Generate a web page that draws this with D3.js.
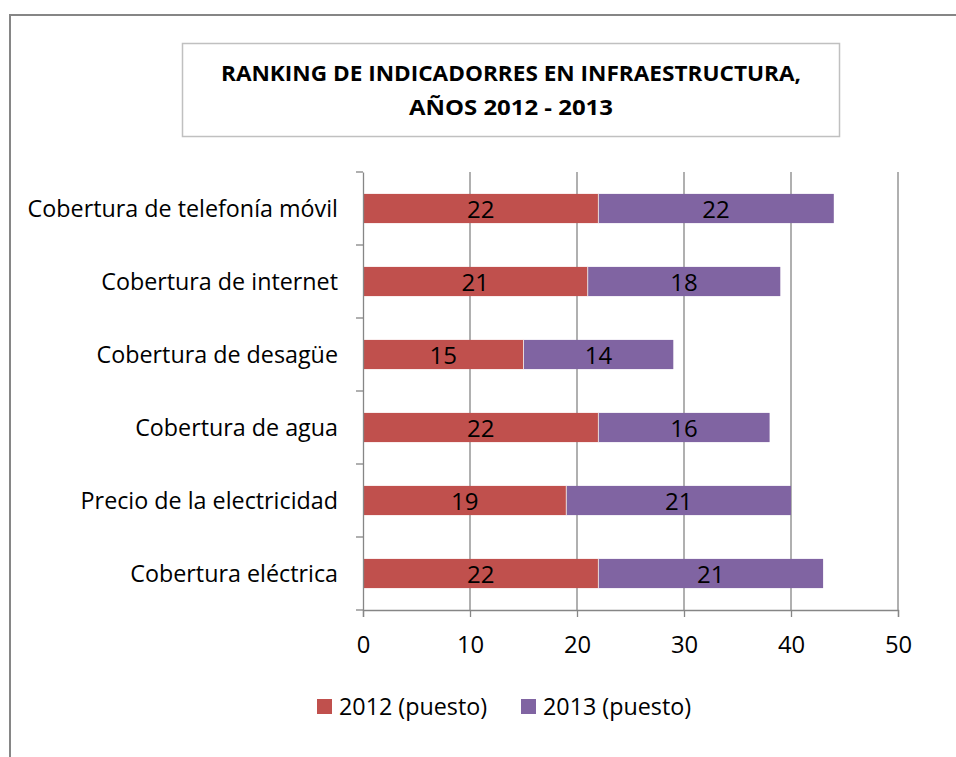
<!DOCTYPE html>
<html><head><meta charset="utf-8">
<script src="https://cdn.jsdelivr.net/npm/d3@7"></script>
<style>body{margin:0;background:#fff}svg{display:block}</style>
</head><body>
<svg id="c" width="956" height="757"></svg>
<script>
const categories = ["Cobertura de telefonía móvil","Cobertura de internet","Cobertura de desagüe","Cobertura de agua","Precio de la electricidad","Cobertura eléctrica"];
const values2012 = [22,21,15,22,19,22];
const values2013 = [22,18,14,16,21,21];
const seriesNames = ["2012 (puesto)","2013 (puesto)"];
const seriesColors = ["#C0504D","#8064A2"];
const xTicks = [0,10,20,30,40,50];
const titleLines = ["RANKING DE INDICADORRES EN INFRAESTRUCTURA,","AÑOS 2012 - 2013"];

const FONT = "'Open Sans', 'Noto Sans', sans-serif";
const FS = 23.3;
const svg = d3.select("#c");
// outer border
svg.append("rect").attr("x",10).attr("y",15).attr("width",960).attr("height",760)
  .attr("fill","none").attr("stroke","#868686").attr("stroke-width",2);
// title box
svg.append("rect").attr("x",182.5).attr("y",43.5).attr("width",657).attr("height",93)
  .attr("fill","#fff").attr("stroke","#c0c0c0").attr("stroke-width",1.5);
const titleLen = [580, 204];
svg.selectAll("text.title").data(titleLines).enter().append("text")
  .attr("class","title").attr("x",511).attr("y",(d,i)=>81+i*34)
  .attr("text-anchor","middle").attr("font-family",FONT).attr("font-weight","bold")
  .attr("font-size",21.5).attr("fill","#000")
  .attr("textLength",(d,i)=>titleLen[i]).attr("lengthAdjust","spacingAndGlyphs").text(d=>d);

const x = d3.scaleLinear().domain([0,50]).range([363,898]);
const y = d3.scaleBand().domain(categories).range([172,610]).paddingInner(0.6).paddingOuter(0.3);
const yb = d3.scaleBand().domain(categories).range([172,610]);
const axisColor = "#868686";
const g = svg.append("g");
// gridlines
g.selectAll("line.grid").data(xTicks.slice(1)).enter().append("line")
  .attr("x1",d=>x(d)).attr("x2",d=>x(d)).attr("y1",172).attr("y2",610)
  .attr("stroke",axisColor).attr("stroke-width",1.3);

// bars
const data = categories.map((c,i)=>({c, a:values2012[i], b:values2013[i]}));
const rows = g.selectAll("g.row").data(data).enter().append("g");
rows.append("rect").attr("x",d=>x(0)).attr("y",d=>y(d.c)).attr("width",d=>x(d.a)-x(0))
  .attr("height",y.bandwidth()).attr("fill",seriesColors[0]);
rows.append("rect").attr("x",d=>x(d.a)).attr("y",d=>y(d.c)).attr("width",d=>x(d.a+d.b)-x(d.a))
  .attr("height",y.bandwidth()).attr("fill",seriesColors[1]);
rows.append("line").attr("x1",d=>x(d.a)).attr("x2",d=>x(d.a)).attr("y1",d=>y(d.c)).attr("y2",d=>y(d.c)+y.bandwidth())
  .attr("stroke","#e8d8d8").attr("stroke-width",1);
rows.append("text").attr("x",d=>(x(0)+x(d.a))/2).attr("y",d=>y(d.c)+y.bandwidth()/2+9)
  .attr("text-anchor","middle").attr("font-family",FONT).attr("font-size",FS+0.7).text(d=>d.a);
rows.append("text").attr("x",d=>(x(d.a)+x(d.a+d.b))/2).attr("y",d=>y(d.c)+y.bandwidth()/2+9)
  .attr("text-anchor","middle").attr("font-family",FONT).attr("font-size",FS+0.7).text(d=>d.b);

// axes
const xAxis = svg.append("g").attr("transform","translate(0,610)")
  .call(d3.axisBottom(x).tickValues(xTicks).tickSize(7).tickPadding(12));
xAxis.select(".domain").attr("stroke",axisColor).attr("stroke-width",1.3);
xAxis.selectAll(".tick line").attr("stroke",axisColor).attr("stroke-width",1.3);
xAxis.selectAll("text").attr("font-family",FONT).attr("font-size",FS+0.5).attr("fill","#000")
  .attr("dy",null).attr("y",43);

const yAxis = svg.append("g").attr("transform","translate(363,0)")
  .call(d3.axisLeft(yb).tickSize(0).tickPadding(25));
yAxis.select(".domain").attr("stroke",axisColor).attr("stroke-width",1.3);
yAxis.selectAll("text").attr("font-family",FONT).attr("font-size",FS).attr("fill","#000")
  .attr("dy",null).attr("y",8);
// boundary ticks
const bounds = [172].concat(categories.map(c=>yb(c)+yb.bandwidth()));
svg.append("g").selectAll("line").data(bounds).enter().append("line")
  .attr("x1",356).attr("x2",363).attr("y1",d=>d).attr("y2",d=>d)
  .attr("stroke",axisColor).attr("stroke-width",1.3);

// legend
const leg = svg.append("g");
const legX = [317,521];
seriesNames.forEach((n,i)=>{
  leg.append("rect").attr("x",legX[i]).attr("y",699).attr("width",15).attr("height",15).attr("fill",seriesColors[i]);
  leg.append("text").attr("x",legX[i]+22).attr("y",715).attr("font-family",FONT).attr("font-size",FS).text(n);
});
</script>
</body></html>
